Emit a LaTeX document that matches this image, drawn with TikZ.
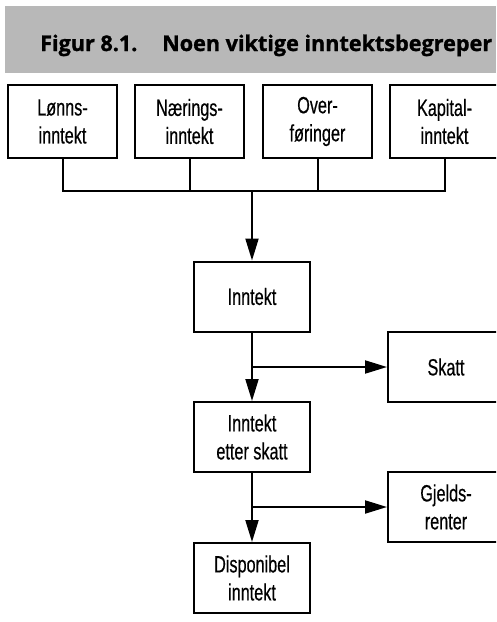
\documentclass[tikz,border=0pt]{standalone}
\usepackage{fontspec}
\setmainfont{Liberation Sans}[FakeStretch=0.69, FakeBold=0.4]
\newfontfamily\titlefont{Open Sans}[FakeBold=1.2]
\usetikzlibrary{arrows.meta}
\tikzset{
  box/.style={draw, line width=2pt, minimum width=109pt, minimum height=73pt,
    align=center, inner sep=0pt, font=\fontsize{23.5}{28}\selectfont},
  midbox/.style={box, minimum width=116pt, minimum height=70pt},
  link/.style={line width=2pt},
  flow/.style={link, -{Triangle[length=22pt,width=13pt]}},
  titletext/.style={anchor=base west, inner sep=0pt,
    font=\titlefont\bfseries\fontsize{21.6}{25}\selectfont}
}
\begin{document}
\begin{tikzpicture}[x=1pt,y=-1pt]
\useasboundingbox (0,0) rectangle (496,622);
\clip (0,0) rectangle (496,622);

% title banner
\fill[black!28] (5,6) rectangle (496,73);
\node[titletext] (fig) at (40,51) {Figur 8.1.};
\node[titletext] (title) at (162,51) {Noen viktige inntektsbegreper};

% income sources
\node[box] (lonn) at (62.5,121.5) {Lønns-\\inntekt};
\node[box] (naer) at (189.5,121.5) {Nærings-\\inntekt};
\node[box] (over) at (317.5,121.5) {Over-\\føringer};
\node[box] (kap)  at (444.5,121.5) {Kapital-\\inntekt};

% main column
\node[midbox] (inn)  at (252,296.5) {Inntekt};
\node[midbox] (ies)  at (252,437) {Inntekt\\etter skatt};
\node[midbox] (disp) at (252,578) {Disponibel\\inntekt};

% deductions
\node[midbox] (skatt) at (446,367) {Skatt};
\node[midbox] (gj)    at (446,507) {Gjelds-\\renter};

% collecting bus
\coordinate (bus) at (0,191);
\draw[link] (lonn.south) |- (kap.south |- bus) -- (kap.south);
\draw[link] (naer.south) -- (naer.south |- bus);
\draw[link] (over.south) -- (over.south |- bus);
\draw[flow] (inn.north |- bus) -- (inn.north);

% flow down the column with side branches
\draw[flow] (inn.south) -- (ies.north);
\draw[flow] (inn.south |- skatt.west) -- (skatt.west);
\draw[flow] (ies.south) -- (disp.north);
\draw[flow] (ies.south |- gj.west) -- (gj.west);
\end{tikzpicture}
\end{document}
